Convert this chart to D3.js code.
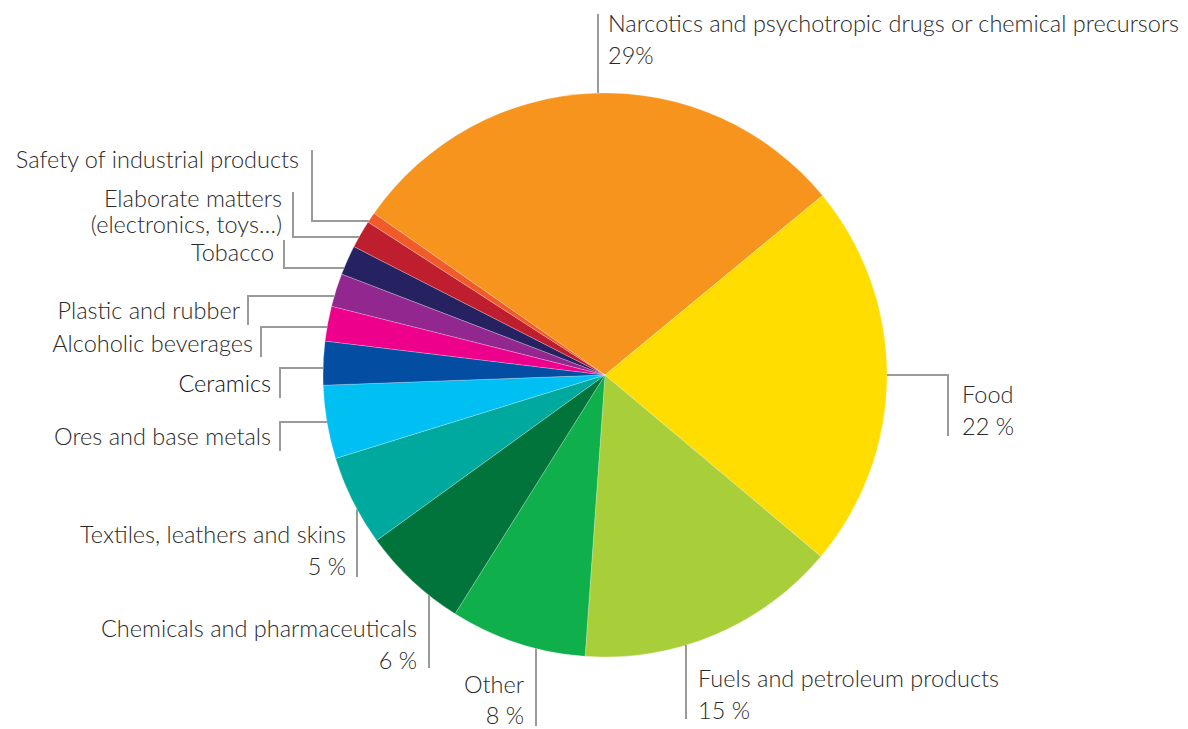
<!DOCTYPE html>
<html>
<head>
<meta charset="utf-8">
<script src="https://cdn.jsdelivr.net/npm/d3@7"></script>
<style>
  body { margin: 0; background: #fff; }
  svg text { font-family: "Lato", "Open Sans", sans-serif; font-weight: 300; fill: #2a2a2a; }
</style>
</head>
<body>
<svg id="chart" width="1188" height="729"></svg>
<script>
// categories, clockwise from the top-left edge of the narcotics slice
const categories = [
  "Narcotics and psychotropic drugs or chemical precursors",
  "Food",
  "Fuels and petroleum products",
  "Other",
  "Chemicals and pharmaceuticals",
  "Textiles, leathers and skins",
  "Ores and base metals",
  "Ceramics",
  "Alcoholic beverages",
  "Plastic and rubber",
  "Tobacco",
  "Elaborate matters\n(electronics, toys…)",
  "Safety of industrial products"
];
const shares = [29.3, 22.1, 15.0, 7.8, 6.1, 5.2, 4.2, 2.5, 2.0, 1.9, 1.7, 1.6, 0.6];
const shareLabels = ["29%", "22 %", "15 %", "8 %", "6 %", "5 %", "", "", "", "", "", "", ""];
const sliceColors = ["#F7941D", "#FFDD00", "#A8CF3A", "#0FAF4B", "#00743A", "#00A99D",
  "#00BFF3", "#034EA2", "#EC008C", "#92278F", "#262262", "#BE1E2D", "#F15A29"];

const svg = d3.select("#chart");
const cx = 605, cy = 375, radius = 282;
const lineH = 32;

const g = svg.append("g").attr("transform", `translate(${cx},${cy})`);

const pie = d3.pie().sort(null).value(d => d)
  .startAngle(-55 * Math.PI / 180).endAngle(305 * Math.PI / 180);
const arc = d3.arc().innerRadius(0).outerRadius(radius);

g.selectAll("path.slice")
  .data(pie(shares))
  .enter()
  .append("path")
  .attr("class", "slice")
  .attr("d", arc)
  .attr("fill", (d, i) => sliceColors[i])
  .attr("stroke", "#fff")
  .attr("stroke-width", 0.4)
  .attr("stroke-opacity", 0.6);

// pie edge helpers (page coords)
const edgeX = y => cx - Math.sqrt(radius * radius - (y - cy) * (y - cy));
const edgeXRight = y => cx + Math.sqrt(radius * radius - (y - cy) * (y - cy));
const edgeYTop = x => cy - Math.sqrt(radius * radius - (x - cx) * (x - cx));
const edgeYBottom = x => cy + Math.sqrt(radius * radius - (x - cx) * (x - cx));

// label layout: leader kind, leader anchor and text position
const layout = [
  { kind: "top", x: 598, y0: 14, tx: 608, ty: 32, anchor: "start" },
  { kind: "right", y: 375, x1: 948, y1: 436, tx: 962, ty: 403, anchor: "start" },
  { kind: "bottom", x: 686, y1: 719, tx: 698, ty: 687, anchor: "start" },
  { kind: "bottom", x: 536, y1: 726, tx: 524, ty: 693, anchor: "end", lh: 31 },
  { kind: "bottom", x: 429, y1: 668, tx: 417, ty: 637, anchor: "end" },
  { kind: "bottom", x: 357, y1: 577, tx: 346, ty: 543, anchor: "end" },
  { kind: "leftDown", y: 422, x: 280, y1: 451, tx: 271, ty: 445, anchor: "end" },
  { kind: "leftDown", y: 368, x: 280, y1: 398, tx: 271, ty: 392, anchor: "end" },
  { kind: "leftDown", y: 327, x: 261, y1: 357, tx: 253, ty: 352, anchor: "end" },
  { kind: "leftDown", y: 296, x: 248, y1: 325, tx: 240, ty: 319, anchor: "end" },
  { kind: "leftUp", y: 268, x: 284, y0: 240, tx: 274, ty: 261, anchor: "end" },
  { kind: "leftUp", y: 237, x: 293, y0: 192, tx: 282, ty: 207, anchor: "end", lh: 26 },
  { kind: "leftUp", y: 221, x: 312, y0: 150, tx: 299, ty: 168, anchor: "end" }
];

const leaders = svg.append("g")
  .attr("fill", "none")
  .attr("stroke", "#9a9a9a")
  .attr("stroke-width", 2);

layout.forEach((L, i) => {
  let pts;
  if (L.kind === "top") pts = [[L.x, L.y0], [L.x, edgeYTop(L.x)]];
  else if (L.kind === "bottom") pts = [[L.x, edgeYBottom(L.x)], [L.x, L.y1]];
  else if (L.kind === "right") pts = [[edgeXRight(L.y), L.y], [L.x1, L.y], [L.x1, L.y1]];
  else if (L.kind === "leftDown") pts = [[edgeX(L.y), L.y], [L.x, L.y], [L.x, L.y1]];
  else pts = [[L.x, L.y0], [L.x, L.y], [edgeX(L.y), L.y]];
  leaders.append("path").attr("d", d3.line()(pts));

  const lines = categories[i].split("\n");
  if (shareLabels[i]) lines.push(shareLabels[i]);
  const t = svg.append("text")
    .attr("x", L.tx)
    .attr("y", L.ty)
    .attr("text-anchor", L.anchor)
    .style("font-size", "23.5px");
  lines.forEach((s, k) => {
    t.append("tspan").attr("x", L.tx).attr("y", L.ty + k * (L.lh || lineH)).text(s);
  });
  if (categories[i] === "Ceramics") t.style("fill", "#111");
});
</script>
</body>
</html>
